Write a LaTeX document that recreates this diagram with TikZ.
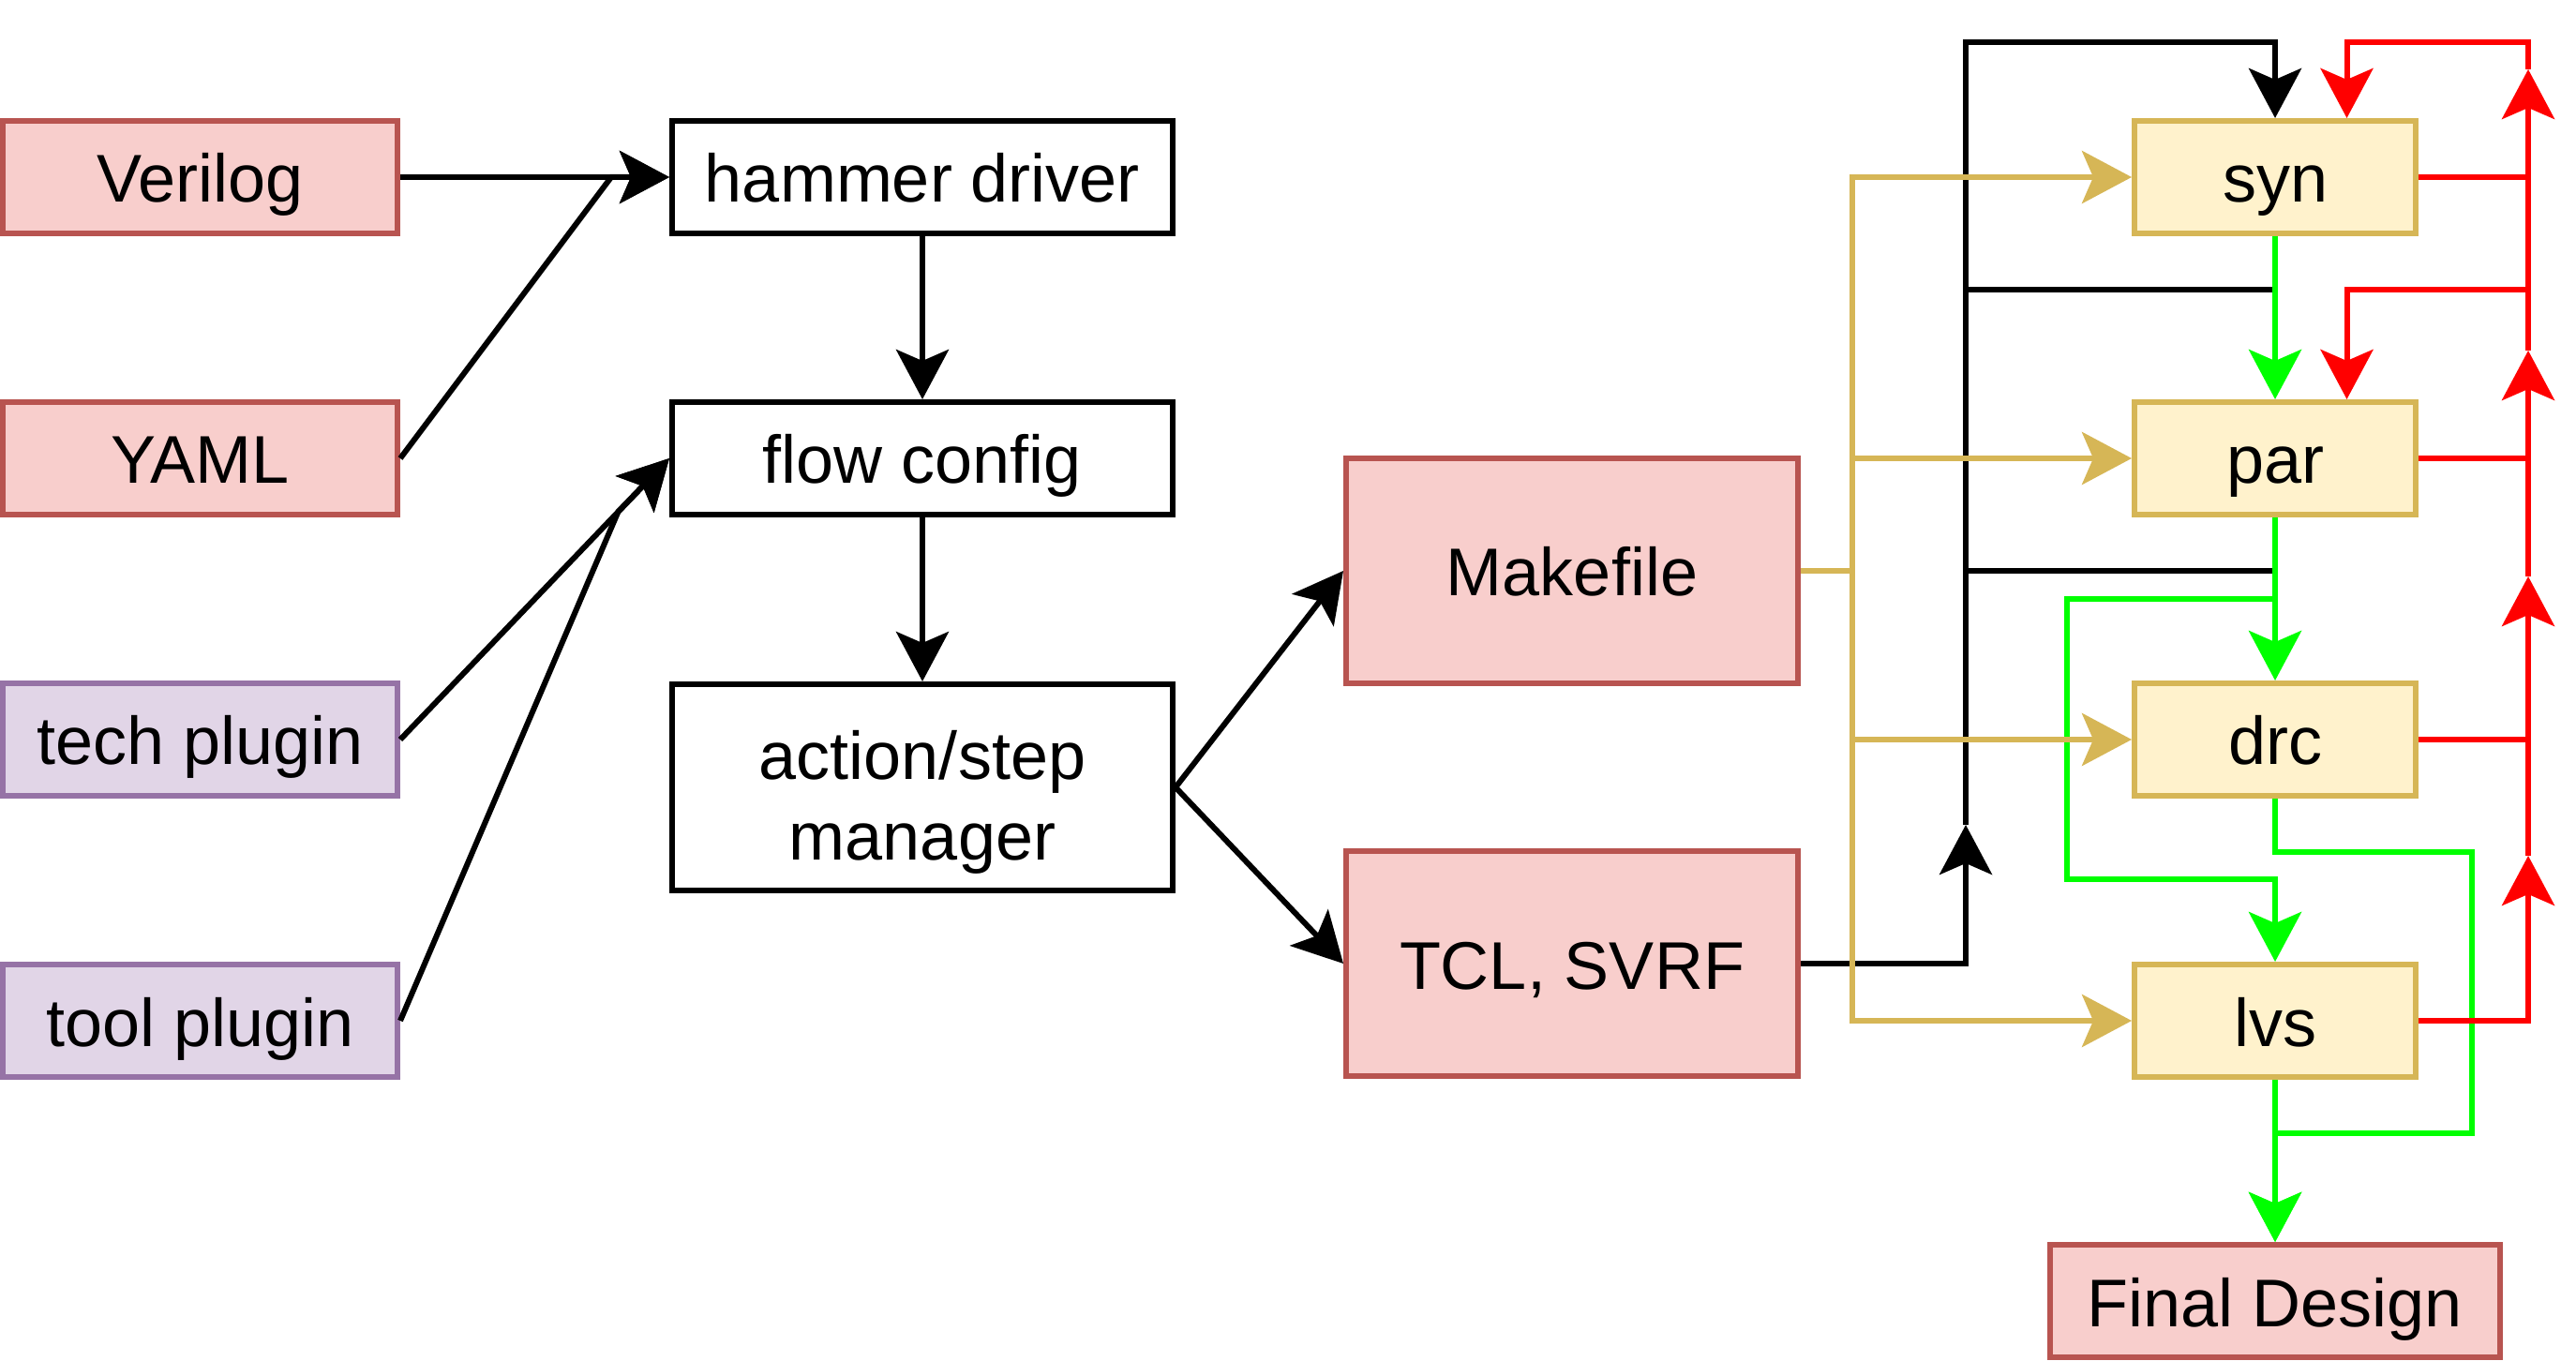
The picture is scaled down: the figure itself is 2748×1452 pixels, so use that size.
\documentclass[tikz,border=0pt]{standalone}
\usepackage{fontspec}
\setmainfont{Liberation Sans}
\usetikzlibrary{arrows.meta,calc}
\definecolor{rfill}{HTML}{F8CECC}
\definecolor{rstroke}{HTML}{B85450}
\definecolor{pfill}{HTML}{E1D5E7}
\definecolor{pstroke}{HTML}{9673A6}
\definecolor{yfill}{HTML}{FFF2CC}
\definecolor{ystroke}{HTML}{D6B656}
\definecolor{gline}{HTML}{00FF00}
\definecolor{rline}{HTML}{FF0000}
\newcommand{\lstrut}{\rule[-3.8pt]{0pt}{21.1pt}}
\newcommand{\tstrut}{\rule[-3.8pt]{0pt}{24.7pt}}
\tikzset{
  base/.style={draw, line width=1.5pt, inner sep=0pt, align=center,
    font=\fontsize{18pt}{21.6pt}\selectfont},
  inbox/.style={base, fill=rfill, draw=rstroke, minimum width=105.25pt, minimum height=30pt},
  plugbox/.style={base, fill=pfill, draw=pstroke, minimum width=105.25pt, minimum height=30pt},
  midbox/.style={base, fill=white, draw=black, minimum width=133.5pt, minimum height=30pt},
  genbox/.style={base, fill=rfill, draw=rstroke, minimum width=120.5pt, minimum height=60pt},
  stepbox/.style={base, fill=yfill, draw=ystroke, minimum width=75pt, minimum height=30pt},
  finalbox/.style={base, fill=rfill, draw=rstroke, minimum width=120pt, minimum height=30pt},
  con/.style={line width=1.5pt},
  arr/.style={con, -{Stealth[length=13.25pt,width=14pt,inset=3pt]}},
}
\begin{document}
\begin{tikzpicture}[x=0.25pt,y=-0.25pt]
\useasboundingbox (0,0) rectangle (2748,1452);
% left inputs
\node[inbox]   (ver)  at (213.5,189)  {\lstrut Verilog};
\node[inbox]   (yaml) at (213.5,489)  {\lstrut YAML};
\node[plugbox] (tech) at (213.5,789)  {\lstrut tech plugin};
\node[plugbox] (tool) at (213.5,1089) {\lstrut tool plugin};
% middle
\node[midbox] (hd)  at (984,189) {\lstrut hammer driver};
\node[midbox] (fc)  at (984,489) {\lstrut flow config};
\node[midbox, minimum height=55pt] (asm) at (984,840) {\tstrut action/step\\\lstrut manager};
% generated
\node[genbox] (mk)  at (1677,609)  {\lstrut Makefile};
\node[genbox] (tcl) at (1677,1028) {\lstrut TCL, SVRF};
% steps
\node[stepbox] (syn) at (2427,189)  {\lstrut syn};
\node[stepbox] (par) at (2427,489)  {\lstrut par};
\node[stepbox] (drc) at (2427,789)  {\lstrut drc};
\node[stepbox] (lvs) at (2427,1089) {\lstrut lvs};
\node[finalbox] (fd) at (2427,1388) {\lstrut Final Design};

% left connectors
\coordinate (hdj) at ($(hd.west)+(-62,0)$);
\coordinate (fcj) at ($(fc.west)!19.75pt!(tech.east)$);
\draw[arr] (ver.east) -- (hd.west);
\draw[arr] (yaml.east) -- (hdj) -- (hd.west);
\draw[arr] (tech.east) -- (fc.west);
\draw[arr] (tool.east) -- (fcj) -- (fc.west);
\draw[arr] (hd.south) -- (fc.north);
\draw[arr] (fc.south) -- (asm.north);
\draw[arr] (asm.east) -- (mk.west);
\draw[arr] (asm.east) -- (tcl.west);

% black
\coordinate (bk1) at (2097,880);
\coordinate (bk2) at (2097,45);
\coordinate (bk3) at (2097,309);
\coordinate (bk4) at (2097,609);
\draw[arr] (tcl.east) -| (bk1);
\draw[arr] (bk1) -- (bk2) -| (syn.north);
\draw[con] (bk3) -- (bk3 -| syn.south);
\draw[con] (bk4) -- (bk4 -| syn.south);

% green
\coordinate (g1) at (2427,639);
\coordinate (g2) at (2205,938);
\coordinate (g3) at (2637,909);
\coordinate (g4) at (2637,1209);
\draw[arr, gline] (syn.south) -- (par.north);
\draw[arr, gline] (par.south) -- (drc.north);
\draw[arr, gline] (g1) -| (g2) -| (lvs.north);
\draw[arr, gline] (drc.south) |- (g3) -- (g4) -| (fd.north);
\draw[arr, gline] (lvs.south) -- (fd.north);

% red
\coordinate (r1) at (2697,74);
\coordinate (r2) at (2697,374);
\coordinate (r3) at (2697,615);
\coordinate (r4) at (2697,913);
\coordinate (rt) at (2697,45);
\coordinate (rm) at (2697,309);
\coordinate (synr) at ($(syn.north)!0.5!(syn.north east)$);
\coordinate (parr) at ($(par.north)!0.5!(par.north east)$);
\draw[arr, rline] (lvs.east) -| (r4);
\draw[arr, rline] (r4) -- (r3);
\draw[arr, rline] (r3) -- (r2);
\draw[arr, rline] (r2) -- (r1);
\draw[con, rline] (drc.east) -- (drc.east -| r4);
\draw[con, rline] (par.east) -- (par.east -| r4);
\draw[con, rline] (syn.east) -- (syn.east -| r4);
\draw[arr, rline] (r1) -- (rt) -| (synr);
\draw[arr, rline] (rm) -| (parr);

% gold
\coordinate (gx) at (1976,609);
\draw[con, ystroke] (mk.east) -- (gx);
\draw[arr, ystroke] (gx) |- (syn.west);
\draw[arr, ystroke] (gx) |- (par.west);
\draw[arr, ystroke] (gx) |- (drc.west);
\draw[arr, ystroke] (gx) |- (lvs.west);
\end{tikzpicture}
\end{document}
